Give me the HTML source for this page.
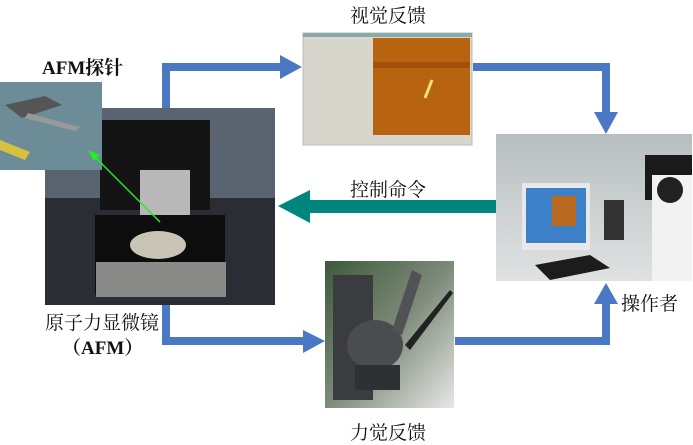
<!DOCTYPE html>
<html><head><meta charset="utf-8"><style>
body{margin:0;width:693px;height:441px;background:#fff;position:relative;overflow:hidden;font-family:"Liberation Serif","Noto Serif CJK SC",serif;}
.t{position:absolute;font-size:19px;color:#111;white-space:nowrap;}
.a{position:absolute}
</style></head><body>
<svg class="a" style="left:0;top:0" width="693" height="441">
<defs>
<linearGradient id="hg" x1="0" y1="0" x2="1" y2="1"><stop offset="0" stop-color="#3c5a3c"/><stop offset="0.5" stop-color="#7d8a78"/><stop offset="1" stop-color="#e6e8e6"/></linearGradient>
<linearGradient id="og" x1="0" y1="0" x2="0" y2="1"><stop offset="0" stop-color="#b7bec0"/><stop offset="1" stop-color="#e0e2e2"/></linearGradient>
</defs>
<!-- blue arrows -->
<g fill="#4a78c4">
<rect x="162" y="63" width="8" height="46"/><rect x="162" y="63" width="120" height="8"/><polygon points="280,55 302,67 280,79"/>
<rect x="473" y="63" width="137" height="8"/><rect x="602" y="63" width="8" height="50"/><polygon points="594,112 618,112 606,134"/>
<rect x="162" y="304" width="8" height="41"/><rect x="162" y="337" width="143" height="8"/><polygon points="303,330 325,341 303,353"/>
<rect x="455" y="337" width="155" height="8"/><rect x="602" y="302" width="8" height="43"/><polygon points="594,304 618,304 606,283"/>
</g>
<!-- teal arrow -->
<rect x="308" y="200" width="190" height="13" fill="#00857f"/><polygon points="278,206 310,190 310,223" fill="#00857f"/>
<!-- AFM photo -->
<rect x="45" y="108" width="230" height="197" fill="#2a2d33"/>
<rect x="45" y="108" width="230" height="90" fill="#5a6470"/>
<rect x="100" y="120" width="110" height="90" fill="#141414"/>
<rect x="140" y="170" width="50" height="50" fill="#b8b8b8"/>
<rect x="95" y="215" width="130" height="80" fill="#0d0d0d"/>
<ellipse cx="158" cy="245" rx="28" ry="14" fill="#c8c4b6"/>
<rect x="96" y="262" width="130" height="35" fill="#8a8a88"/>
<!-- probe -->
<rect x="0" y="82" width="102" height="88" fill="#6c8c98"/>
<polygon points="5,105 45,96 62,105 22,118" fill="#555"/>
<polygon points="28,113 80,127 75,131 25,118" fill="#999"/>
<polygon points="0,140 30,152 25,160 0,150" fill="#d8c040"/>
<line x1="160" y1="222" x2="92" y2="154" stroke="#22ee22" stroke-width="1.5"/>
<polygon points="88,150 100,155 94,161" fill="#22ee22"/>
<!-- screenshot -->
<rect x="303" y="33" width="169" height="112" fill="#d8d6cc" stroke="#bbb"/>
<rect x="303" y="33" width="169" height="4" fill="#8aa"/>
<rect x="373" y="38" width="97" height="97" fill="#b8630f"/>
<rect x="373" y="62" width="97" height="6" fill="#a4500c"/>
<line x1="425" y1="98" x2="432" y2="80" stroke="#f2e070" stroke-width="3"/>
<!-- operator -->
<rect x="496" y="134" width="196" height="147" fill="url(#og)"/>
<rect x="522" y="183" width="68" height="67" fill="#e8e8e8"/>
<rect x="526" y="188" width="60" height="55" fill="#3e80c8"/>
<rect x="552" y="196" width="24" height="30" fill="#b86a20"/>
<rect x="645" y="155" width="47" height="45" fill="#1a1a1a"/>
<polygon points="535,265 590,255 610,268 550,280" fill="#1c1c1c"/>
<rect x="652" y="175" width="40" height="106" fill="#f2f2f2"/>
<circle cx="670" cy="190" r="13" fill="#222"/>
<rect x="604" y="200" width="20" height="40" fill="#333"/>
<!-- haptic -->
<rect x="325" y="261" width="129" height="147" fill="url(#hg)"/>
<rect x="333" y="275" width="40" height="125" fill="#3a3c40"/>
<ellipse cx="375" cy="345" rx="28" ry="25" fill="#4a4c50"/>
<rect x="355" y="365" width="45" height="25" fill="#2e3034"/>
<polygon points="392,330 412,270 422,275 402,335" fill="#505256"/>
<polygon points="405,345 450,290 453,293 410,350" fill="#222"/>
</svg>
<div class="t" style="left:42px;top:53px;font-weight:bold">AFM探针</div>
<div class="t" style="left:350px;top:1px">视觉反馈</div>
<div class="t" style="left:350px;top:175px">控制命令</div>
<div class="t" style="left:621px;top:289px">操作者</div>
<div class="t" style="left:45px;top:308px">原子力显微镜</div>
<div class="t" style="left:62px;top:333px;font-weight:bold">（AFM）</div>
<div class="t" style="left:350px;top:418px">力觉反馈</div>
</body></html>
